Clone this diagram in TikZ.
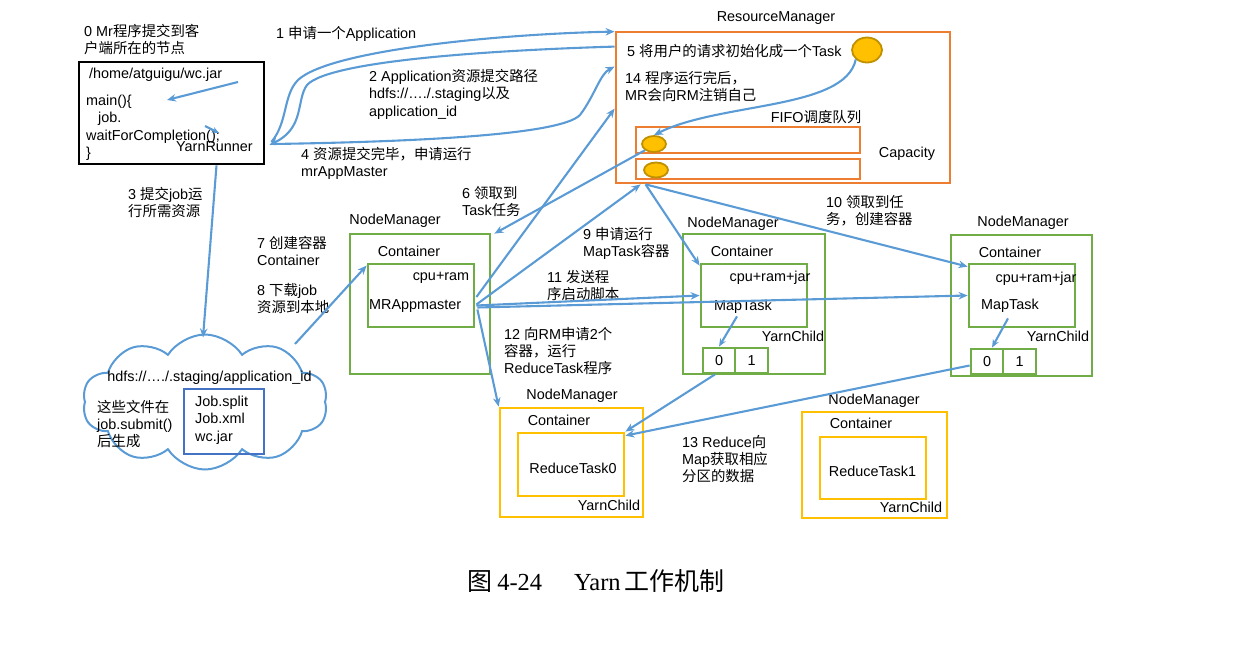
\documentclass[tikz,border=0pt]{standalone}
\usepackage{fontspec}
\setmainfont{Liberation Sans}
\newfontfamily\zh{Noto Sans CJK SC}
\newfontfamily\capserif{Liberation Serif}
\usetikzlibrary{arrows.meta, shapes.geometric, shapes.symbols}

\definecolor{flowblue}{HTML}{5B9BD5}
\definecolor{rmorange}{HTML}{ED7D31}
\definecolor{nmgreen}{HTML}{70AD47}
\definecolor{rtyellow}{HTML}{FFC000}
\definecolor{taskedge}{HTML}{BF9000}
\definecolor{jobblue}{HTML}{4472C4}

\tikzset{
  lbl/.style={inner sep=0pt, align=left, font=\fontsize{14.4}{17.3}\selectfont},
  flow/.style={draw=flowblue, line width=2.1pt, -{Stealth[length=9pt,width=7.5pt]}},
  box/.style={draw, line width=2.8pt, inner sep=0pt},
  rmbox/.style={box, draw=rmorange},
  nmbox/.style={box, draw=nmgreen},
  rtbox/.style={box, draw=rtyellow},
  taskdot/.style={ellipse, draw=taskedge, line width=1.8pt, fill=rtyellow, inner sep=0pt},
}

\begin{document}
\begin{tikzpicture}[x=1pt, y=-1pt]
    \useasboundingbox (0,0) rectangle (1245,652);

    % Client node
    \node[lbl, anchor=north west] (t0) at (84,24) {0 Mr{\zh 程序提交到客}\\{\zh 户端所在的节点}};
    \node[box, draw=black, line width=2.8pt, minimum width=185pt, minimum height=102pt] (client) at (171.5,113) {};
    \node[lbl, anchor=west] (jarpath) at (89,75) {/home/atguigu/wc.jar};
    \node[lbl, anchor=north west] (mainfn) at (86,95) {main()\{\\\hspace*{12pt}job.\\waitForCompletion();\\\}};
    \node[lbl, anchor=west] (yarnrunner) at (176,147) {YarnRunner};
    \coordinate (pa) at (238,82);
    \coordinate (pb) at (167,100);
    \coordinate (pc) at (205,126);
    \coordinate (pd) at (219,133);
    \draw[flow] (pa) -- (pb);
    \draw[flow, -{Stealth[length=7pt,width=6pt]}] (pc) -- (pd);

    % ResourceManager
    \node[lbl] (rmlbl) at (776,18) {ResourceManager};
    \node[rmbox, minimum width=334pt, minimum height=151pt] (rm) at (783,107.5) {};
    \node[lbl, anchor=west] (t5) at (627,51) {5 {\zh 将用户的请求初始化成一个}Task};
    \node[taskdot, minimum width=30pt, minimum height=25pt] (task) at (867,50) {};
    \node[lbl, anchor=north west] (t14) at (625,71) {14 {\zh 程序运行完后，}\\MR{\zh 会向}RM{\zh 注销自己}};
    \node[lbl] (fifolbl) at (816,117) {FIFO{\zh 调度队列}};
    \node[rmbox, line width=2.4pt, minimum width=224pt, minimum height=26pt] (fifo1) at (748,140) {};
    \node[rmbox, line width=2.4pt, minimum width=224pt, minimum height=20pt] (fifo2) at (748,169) {};
    \node[taskdot, minimum width=24pt, minimum height=16pt] (q1) at (654,144) {};
    \node[taskdot, minimum width=24pt, minimum height=15pt] (q2) at (656,170) {};
    \node[lbl] (capacity) at (907,154) {Capacity};
    \draw[flow] (task.south west) .. controls (845,110) and (720,102) .. (q1.north);

    % Client <-> RM
    \node[lbl, anchor=north west] (t1) at (276,26) {1 {\zh 申请一个}Application};
    \node[lbl, anchor=north west] (t2) at (369,69) {2 Application{\zh 资源提交路径}\\hdfs://…./.staging{\zh 以及}\\application\_id};
    \node[lbl, anchor=north west] (t4) at (301,147) {4 {\zh 资源提交完毕，申请运行}\\mrAppMaster};
    \draw[flow] ([xshift=6pt,yshift=-29pt]client.east) .. controls (288,122) and (283,95) .. (298,80)
        .. controls (330,50) and (500,34) .. ([yshift=-1pt]rm.north west);
    \draw[flow] ([yshift=-16pt]rm.north west) .. controls (500,50) and (330,60) .. (307,85)
        .. controls (296,100) and (305,128) .. ([xshift=4pt,yshift=-32pt]client.east);
    \draw[flow] ([xshift=8pt,yshift=-31pt]client.east) .. controls (400,142) and (560,136) .. (580,115)
        .. controls (595,95) and (600,74) .. ([yshift=-36pt]rm.north west);

    % HDFS staging area
    \node[cloud, cloud puffs=10, cloud puff arc=115, aspect=1.8, draw=flowblue, line width=2pt,
          minimum width=245pt, minimum height=135pt] (cloud) at (205,402) {};
    \node[lbl] (hdfs) at (209.5,378) {hdfs://…./.staging/application\_id};
    \node[lbl, anchor=north west] (gen) at (97,400) {{\zh 这些文件在}\\job.submit()\\{\zh 后生成}};
    \node[box, draw=jobblue, line width=2.4pt, minimum width=80pt, minimum height=65pt] (jobfiles) at (224,421.5) {};
    \node[lbl, anchor=north west] (jobtxt) at (195,396) {Job.split\\Job.xml\\wc.jar};
    \node[lbl, anchor=north west] (t3) at (128,187) {3 {\zh 提交}job{\zh 运}\\{\zh 行所需资源}};
    \draw[flow] ([xshift=45pt]client.south) -- ([xshift=-2pt,yshift=-4pt]cloud.north);

    % NodeManager with MRAppmaster
    \node[lbl] (nm1lbl) at (395,221) {NodeManager};
    \node[nmbox, minimum width=140pt, minimum height=140pt] (nm1) at (420,304) {};
    \node[lbl] (c1lbl) at (409,251) {Container};
    \node[nmbox, minimum width=106pt, minimum height=63pt] (am) at (421,295.5) {};
    \node[lbl] (cpu1) at (441,278) {cpu+ram};
    \node[lbl, anchor=west] (amlbl) at (369,306) {MRAppmaster};
    \node[lbl, anchor=north west] (t7) at (257,236) {7 {\zh 创建容器}\\Container};
    \node[lbl, anchor=north west] (t8) at (257,283) {8 {\zh 下载}job\\{\zh 资源到本地}};
    \coordinate (cloudne) at (295,344);
    \draw[flow] (cloudne) -- ([yshift=-3pt]am.north west);

    % NodeManager with MapTask (1)
    \node[lbl] (nm2lbl) at (733,224) {NodeManager};
    \node[nmbox, minimum width=142pt, minimum height=140pt] (nm2) at (754,304) {};
    \node[lbl] (c2lbl) at (742,251) {Container};
    \node[nmbox, minimum width=106pt, minimum height=63pt] (mt2) at (754,295.5) {};
    \node[lbl] (cpu2) at (770,278) {cpu+ram+jar};
    \node[lbl] (mt2lbl) at (743,307) {MapTask};
    \node[lbl] (yc2) at (793,336) {YarnChild};
    \node[nmbox, minimum width=32pt, minimum height=25pt] (b20) at (719,360.5) {};
    \node[nmbox, minimum width=33pt, minimum height=25pt] (b21) at (751.5,360.5) {};
    \node[lbl] at (b20) {0};
    \node[lbl] at (b21) {1};
    \draw[flow, -{Stealth[length=8pt,width=6.5pt]}] ([xshift=-17pt,yshift=12pt]mt2.south) -- (b20.north);

    % NodeManager with MapTask (2)
    \node[lbl] (nm3lbl) at (1023,223) {NodeManager};
    \node[nmbox, minimum width=141pt, minimum height=141pt] (nm3) at (1021.5,305.5) {};
    \node[lbl] (c3lbl) at (1010,252) {Container};
    \node[nmbox, minimum width=106pt, minimum height=63pt] (mt3) at (1022,295.5) {};
    \node[lbl] (cpu3) at (1036,279) {cpu+ram+jar};
    \node[lbl] (mt3lbl) at (1010,306) {MapTask};
    \node[lbl] (yc3) at (1058,336) {YarnChild};
    \node[nmbox, minimum width=32pt, minimum height=25pt] (b30) at (987,361.5) {};
    \node[nmbox, minimum width=33pt, minimum height=25pt] (b31) at (1019.5,361.5) {};
    \node[lbl] at (b30) {0};
    \node[lbl] at (b31) {1};
    \draw[flow, -{Stealth[length=8pt,width=6.5pt]}] ([xshift=-14pt,yshift=10pt]mt3.south) -- ([xshift=5pt]b30.north);

    % NodeManagers with ReduceTasks
    \node[lbl] (r0lbl) at (572,396) {NodeManager};
    \node[rtbox, minimum width=143pt, minimum height=109pt] (r0) at (571.5,462.5) {};
    \node[lbl] (r0clbl) at (559,420) {Container};
    \node[rtbox, minimum width=106pt, minimum height=63pt] (r0in) at (571,464.5) {};
    \node[lbl] (rt0) at (573,468) {ReduceTask0};
    \node[lbl] (yc4) at (609,505) {YarnChild};
    \node[lbl] (r1lbl) at (874,401) {NodeManager};
    \node[rtbox, minimum width=145pt, minimum height=106pt] (r1) at (874.5,465) {};
    \node[lbl] (r1clbl) at (861,423) {Container};
    \node[rtbox, minimum width=106pt, minimum height=62pt] (r1in) at (873,468) {};
    \node[lbl] (rt1) at (872.5,471) {ReduceTask1};
    \node[lbl] (yc5) at (911,507) {YarnChild};

    % MRAppmaster <-> RM and NodeManagers
    \node[lbl, anchor=north west] (t6) at (462,186) {6 {\zh 领取到}\\Task{\zh 任务}};
    \node[lbl, anchor=north west] (t9) at (583,227) {9 {\zh 申请运行}\\MapTask{\zh 容器}};
    \node[lbl, anchor=north west] (t10) at (826,195) {10 {\zh 领取到任}\\{\zh 务，创建容器}};
    \node[lbl, anchor=north west] (t11) at (547,270) {11 {\zh 发送程}\\{\zh 序启动脚本}};
    \node[lbl, anchor=north west] (t12) at (504,327) {12 {\zh 向}RM{\zh 申请}2{\zh 个}\\{\zh 容器，运行}\\ReduceTask{\zh 程序}};
    \node[lbl, anchor=north west] (t13) at (682,435) {13 Reduce{\zh 向}\\Map{\zh 获取相应}\\{\zh 分区的数据}};
    \draw[flow] ([xshift=1pt,yshift=-1.5pt]am.east) -- ([yshift=-78pt]rm.north west);
    \draw[flow] ([xshift=1pt,yshift=-9pt]am.east) -- ([xshift=26pt]rm.south west);
    \draw[flow] (q1.south west) -- ([xshift=3pt,yshift=-1pt]nm1.north east);
    \draw[flow] ([xshift=31pt]rm.south west) -- ([yshift=-3pt]mt2.north west);
    \draw[flow] ([xshift=31pt]rm.south west) -- ([yshift=-4pt]mt3.north west);
    \draw[flow] ([xshift=1pt,yshift=-10pt]am.east) -- (mt2.west);
    \draw[flow] ([xshift=2pt,yshift=-12pt]am.east) -- (mt3.west);
    \draw[flow] ([xshift=2pt,yshift=-14pt]am.east) -- (r0.north west);
    \draw[flow] ([xshift=-4pt]b20.south) -- (r0in.north east);
    \draw[flow] ([yshift=-4pt]b30.west) -- ([yshift=-4pt]r0in.north east);

    % Caption
    \node[inner sep=0pt] (caption) at (596,581)
        {{\fontsize{25}{27}\zh 图}\hspace{5pt}{\fontsize{24.5}{27}\capserif 4-24}\hspace{32pt}{\fontsize{24.5}{27}\capserif Yarn}\hspace{4pt}{\fontsize{25}{27}\zh 工作机制}};
\end{tikzpicture}
\end{document}
